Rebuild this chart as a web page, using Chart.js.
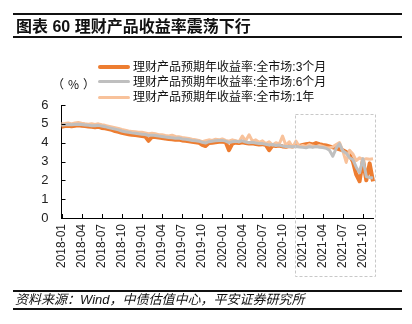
<!DOCTYPE html>
<html>
<head>
<meta charset="utf-8">
<script src="https://cdn.jsdelivr.net/npm/chart.js@4.4.1/dist/chart.umd.min.js"></script>
<style>
html, body {
  margin: 0;
  padding: 0;
  background: #fff;
}
#wrap {
  position: relative;
  width: 412px;
  height: 324px;
  overflow: hidden;
  font-family: "Liberation Sans", "Noto Sans CJK SC", sans-serif;
  color: #111;
}
#chart {
  position: absolute;
  left: 0;
  top: 0;
}
.rule {
  position: absolute;
  left: 13px;
  width: 389px;
  height: 2px;
  background: #111;
}
#title {
  position: absolute;
  left: 16px;
  top: 17px;
  font-size: 16px;
  line-height: 20px;
  font-weight: bold;
  white-space: nowrap;
}
#unit {
  position: absolute;
  left: 52px;
  top: 77px;
  font-family: "Noto Sans CJK SC", sans-serif;
  font-size: 12px;
  line-height: 14px;
  letter-spacing: 4px;
}
.legend-row {
  position: absolute;
  left: 98px;
  height: 14px;
  font-size: 12px;
  line-height: 14px;
  white-space: nowrap;
}
.legend-row i {
  position: absolute;
  left: 0;
  width: 32px;
  border-radius: 2px;
}
.legend-row span {
  position: absolute;
  left: 35px;
  top: 0;
}
#source {
  position: absolute;
  left: 15px;
  top: 292px;
  font-size: 13px;
  line-height: 16px;
  font-style: italic;
  white-space: nowrap;
}
</style>
</head>
<body>
<div id="wrap">
  <canvas id="chart" width="412" height="324"></canvas>
  <div class="rule" style="top:13px"></div>
  <div id="title">图表 60 理财产品收益率震荡下行</div>
  <div class="rule" style="top:36px"></div>
  <div id="unit">（%）</div>
  <div id="legend"></div>
  <div class="rule" style="top:290px"></div>
  <div id="source">资料来源：Wind，中债估值中心，平安证券研究所</div>
  <div class="rule" style="top:308px"></div>
</div>
<script>

// semi-monthly observation dates
const dates = [
  "2018-01-01", "2018-01-15", "2018-02-01", "2018-02-15", "2018-03-01", "2018-03-15",
  "2018-04-01", "2018-04-15", "2018-05-01", "2018-05-15", "2018-06-01", "2018-06-15",
  "2018-07-01", "2018-07-15", "2018-08-01", "2018-08-15", "2018-09-01", "2018-09-15",
  "2018-10-01", "2018-10-15", "2018-11-01", "2018-11-15", "2018-12-01", "2018-12-15",
  "2019-01-01", "2019-01-15", "2019-02-01", "2019-02-15", "2019-03-01", "2019-03-15",
  "2019-04-01", "2019-04-15", "2019-05-01", "2019-05-15", "2019-06-01", "2019-06-15",
  "2019-07-01", "2019-07-15", "2019-08-01", "2019-08-15", "2019-09-01", "2019-09-15",
  "2019-10-01", "2019-10-15", "2019-11-01", "2019-11-15", "2019-12-01", "2019-12-15",
  "2020-01-01", "2020-01-15", "2020-02-01", "2020-02-15", "2020-03-01", "2020-03-15",
  "2020-04-01", "2020-04-15", "2020-05-01", "2020-05-15", "2020-06-01", "2020-06-15",
  "2020-07-01", "2020-07-15", "2020-08-01", "2020-08-15", "2020-09-01", "2020-09-15",
  "2020-10-01", "2020-10-15", "2020-11-01", "2020-11-15", "2020-12-01", "2020-12-15",
  "2021-01-01", "2021-01-15", "2021-02-01", "2021-02-15", "2021-03-01", "2021-03-15",
  "2021-04-01", "2021-04-15", "2021-05-01", "2021-05-15", "2021-06-01", "2021-06-15",
  "2021-07-01", "2021-07-15", "2021-08-01", "2021-08-15", "2021-09-01", "2021-09-15",
  "2021-10-01", "2021-10-15", "2021-11-01", "2021-11-15"
];

const rate3M = [
  4.85, 4.88, 4.90, 4.87, 4.90, 4.92, 4.90, 4.88, 4.86, 4.84, 4.82, 4.85,
  4.78, 4.76, 4.72, 4.68, 4.62, 4.58, 4.52, 4.48, 4.45, 4.42, 4.40, 4.38,
  4.35, 4.33, 4.10, 4.30, 4.30, 4.27, 4.25, 4.22, 4.20, 4.18, 4.15, 4.17,
  4.12, 4.10, 4.08, 4.05, 4.02, 4.00, 3.88, 3.82, 3.98, 4.00, 4.02, 4.05,
  4.05, 4.03, 3.60, 3.95, 4.00, 3.98, 4.02, 3.98, 3.95, 3.97, 3.93, 3.90,
  3.92, 3.88, 3.60, 3.85, 3.82, 3.85, 3.80, 3.78, 3.82, 3.80, 3.85, 3.83,
  3.88, 3.92, 3.95, 3.90, 3.98, 3.92, 3.88, 3.85, 3.80, 3.75, 3.70, 3.65,
  3.60, 3.50, 3.35, 3.00, 2.30, 1.95, 3.10, 2.00, 2.90, 1.95
];

const rate6M = [
  4.93, 4.95, 4.97, 4.95, 4.97, 4.98, 4.96, 4.94, 4.92, 4.90, 4.90, 4.92,
  4.88, 4.85, 4.80, 4.76, 4.72, 4.68, 4.62, 4.58, 4.55, 4.52, 4.50, 4.47,
  4.45, 4.43, 4.38, 4.40, 4.38, 4.35, 4.33, 4.30, 4.28, 4.26, 4.24, 4.25,
  4.20, 4.18, 4.15, 4.12, 4.10, 4.08, 4.02, 3.98, 4.05, 4.08, 4.10, 4.12,
  4.12, 4.08, 4.00, 4.05, 4.08, 4.05, 4.10, 4.03, 4.00, 4.02, 3.98, 3.95,
  3.95, 3.92, 3.88, 3.90, 3.85, 3.88, 3.82, 3.80, 3.80, 3.78, 3.80, 3.77,
  3.75, 3.73, 3.78, 3.75, 3.80, 3.76, 3.74, 3.70, 3.60, 3.28, 3.70, 3.95,
  3.55, 3.45, 3.20, 3.10, 2.70, 2.40, 3.15, 2.20, 2.15, 2.12
];

const rate1Y = [
  5.00, 5.02, 5.05, 5.00, 5.05, 5.07, 5.03, 5.00, 4.98, 5.00, 4.96, 5.00,
  4.95, 4.92, 4.88, 4.84, 4.80, 4.76, 4.70, 4.66, 4.62, 4.60, 4.58, 4.55,
  4.55, 4.52, 4.48, 4.50, 4.47, 4.42, 4.42, 4.38, 4.36, 4.40, 4.33, 4.32,
  4.28, 4.25, 4.22, 4.18, 4.15, 4.12, 4.05, 4.10, 4.15, 4.12, 4.18, 4.15,
  4.20, 4.12, 4.08, 4.15, 4.10, 4.05, 4.35, 4.10, 4.42, 4.08, 4.15, 4.02,
  4.10, 3.95, 4.05, 3.88, 4.00, 3.92, 4.35, 3.85, 4.05, 3.75, 4.08, 3.80,
  3.85, 3.80, 3.90, 3.82, 3.78, 3.85, 3.80, 3.75, 3.72, 3.78, 3.90, 4.00,
  3.55, 2.95, 3.60, 3.40, 3.05, 3.20, 3.10, 3.15, 3.12, 3.15
];

const seriesNames = [
  "理财产品预期年收益率:全市场:3个月",
  "理财产品预期年收益率:全市场:6个月",
  "理财产品预期年收益率:全市场:1年"
];

const seriesColors = [
  "#ED7D31",
  "#BFBFBF",
  "#F8C29B"
];

const seriesWidths = [
  4,
  3,
  3
];

// months that get a label on the x axis
const tickMonths = [
  "01",
  "04",
  "07",
  "10"
];

// html legend
const legendBox = document.getElementById("legend");
const rowCenters = [66.7, 81.7, 97.2];

seriesNames.forEach((name, i) => {
  const row = document.createElement("div");
  row.className = "legend-row";
  row.style.top = (rowCenters[i] - 7) + "px";
  const sw = document.createElement("i");
  sw.style.background = seriesColors[i];
  sw.style.height = (i === 0 ? 4 : 3) + "px";
  sw.style.top = (i === 0 ? 5 : 5.5) + "px";
  const txt = document.createElement("span");
  txt.textContent = name;
  row.appendChild(sw);
  row.appendChild(txt);
  legendBox.appendChild(row);
});

// inward tick marks + dashed highlight box
const axisMarks = {
  id: "axisMarks",
  afterDraw(chart) {
    const { ctx, chartArea } = chart;
    const x = chart.scales.x;
    const y = chart.scales.y;

    ctx.save();
    ctx.strokeStyle = "#000";
    ctx.lineWidth = 1;
    ctx.beginPath();

    y.ticks.forEach((t, i) => {
      const py = Math.round(y.getPixelForTick(i)) + 0.5;
      ctx.moveTo(chartArea.left, py);
      ctx.lineTo(chartArea.left + 4, py);
    });

    x.ticks.forEach((t, i) => {
      if (!t.label) return;
      const px = Math.round(x.getPixelForTick(i)) + 0.5;
      ctx.moveTo(px, chartArea.bottom);
      ctx.lineTo(px, chartArea.bottom - 4);
    });

    ctx.stroke();

    // dashed box around 2021
    const left = Math.round(x.getPixelForValue(dates.indexOf("2020-12-01"))) - 0.5;
    const right = Math.round(chartArea.right) + 2.5;
    const top = Math.round(y.getPixelForValue(5.5)) + 0.5;
    const bottom = Math.round(x.bottom) - 1.5;

    ctx.strokeStyle = "#C8C8C8";
    ctx.setLineDash([3, 2]);
    ctx.strokeRect(left, top, right - left, bottom - top);
    ctx.restore();
  }
};

Chart.defaults.font.family = "'Liberation Sans', 'Noto Sans CJK SC', sans-serif";

new Chart(document.getElementById("chart"), {

  type: "line",

  data: {

    labels: dates,

    datasets: [
      {
        label: seriesNames[0],
        data: rate3M,
        borderColor: seriesColors[0],
        borderWidth: seriesWidths[0],
        order: 3
      },
      {
        label: seriesNames[1],
        data: rate6M,
        borderColor: seriesColors[1],
        borderWidth: seriesWidths[1],
        order: 1
      },
      {
        label: seriesNames[2],
        data: rate1Y,
        borderColor: seriesColors[2],
        borderWidth: seriesWidths[2],
        order: 2
      }
    ]
  },

  options: {

    responsive: false,

    animation: false,

    layout: {
      padding: {
        top: 105,
        right: 39,
        bottom: 46,
        left: 0
      }
    },

    elements: {
      line: {
        tension: 0,
        borderJoinStyle: "round",
        fill: false
      },
      point: {
        radius: 0
      }
    },

    plugins: {
      legend: {
        display: false
      },
      tooltip: {
        enabled: false
      }
    },

    scales: {

      x: {
        grid: {
          display: true,
          drawOnChartArea: false,
          drawTicks: false
        },
        border: {
          color: "#000",
          width: 1
        },
        ticks: {
          autoSkip: false,
          maxRotation: 90,
          minRotation: 90,
          padding: 6,
          color: "#222",
          font: {
            size: 12
          },
          callback(value) {
            const d = dates[value];
            if (d.slice(8) === "01" && tickMonths.includes(d.slice(5, 7))) {
              return d.slice(0, 7);
            }
            return "";
          }
        },
        afterFit(scale) {
          scale.height = 60;
        }
      },

      y: {
        min: 0,
        max: 6,
        grid: {
          display: true,
          drawOnChartArea: false,
          drawTicks: false
        },
        border: {
          color: "#000",
          width: 1
        },
        ticks: {
          stepSize: 1,
          padding: 13,
          color: "#222",
          font: {
            size: 13
          }
        },
        afterFit(scale) {
          scale.width = 61.5;
        }
      }

    }

  },

  plugins: [axisMarks]

});
</script>
</body>
</html>
